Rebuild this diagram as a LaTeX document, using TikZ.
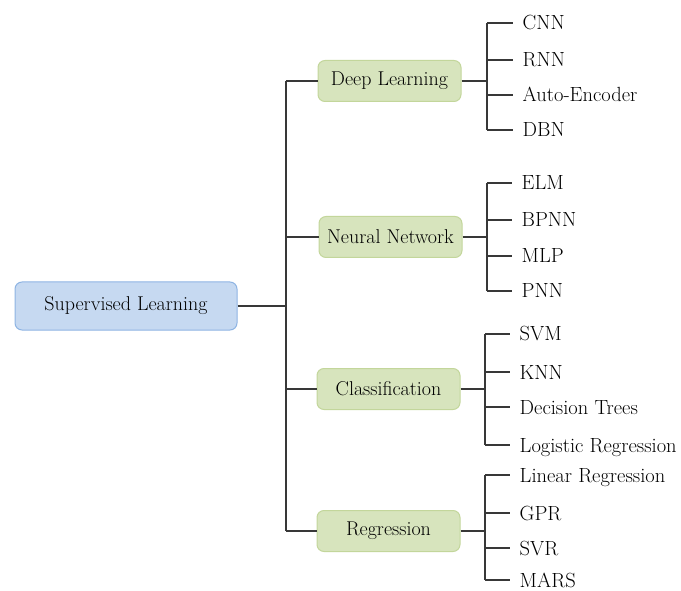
\documentclass[tikz,border=0pt]{standalone}
\colorlet{line edge}{black!78}
\definecolor{root area}{HTML}{C6D9F1}
\definecolor{root edge}{HTML}{8EB4E3}
\definecolor{branch area}{HTML}{D7E4BD}
\definecolor{branch edge}{HTML}{C3D69B}
\tikzset{rootbox/.style={draw=root edge, fill=root area, line width=1pt, rounded corners=7pt,
        minimum width=222pt, minimum height=48pt, font=\fontsize{20}{24}\selectfont},
    branch/.style={draw=branch edge, fill=branch area, line width=1pt, rounded corners=7pt,
        minimum width=143pt, minimum height=41pt, font=\fontsize{20}{24}\selectfont},
    leaf/.style={anchor=west, inner xsep=9.5pt, inner ysep=0pt, text height=14pt, text depth=0pt,
        font=\fontsize{20.5}{24}\selectfont},
    link/.style={draw=line edge, line width=2pt}}

\begin{document}
\begin{tikzpicture}[x=1pt,y=-1pt, text=black]
    \useasboundingbox (0,0) rectangle (681,591);
    \node[rootbox] (root) at (126,306) {Supervised Learning};
    \node[branch] (dl) at (389.5,81)  {Deep Learning};
    \node[branch] (nn) at (390.5,237) {Neural Network};
    \node[branch] (cl) at (388.5,389) {Classification};
    \node[branch] (rg) at (388.5,531) {Regression};
    \coordinate (trunk) at (286,306);
    \coordinate (dlbus) at (487,81);
    \coordinate (nnbus) at (487,237);
    \coordinate (clbus) at (485,389);
    \coordinate (rgbus) at (485,531);

    \node[leaf] (cnn)  at (513,23)  {CNN};
    \node[leaf] (rnn)  at (513,60)  {RNN};
    \node[leaf] (ae)   at (513,95)  {Auto-Encoder};
    \node[leaf] (dbn)  at (513,130) {DBN};

    \node[leaf] (elm)  at (512,183) {ELM};
    \node[leaf] (bpnn) at (512,220) {BPNN};
    \node[leaf] (mlp)  at (512,256) {MLP};
    \node[leaf] (pnn)  at (512,291) {PNN};

    \node[leaf] (svm)  at (510,334) {SVM};
    \node[leaf] (knn)  at (510,372) {KNN};
    \node[leaf] (dt)   at (510,407) {Decision Trees};
    \node[leaf] (lgr)  at (510,445) {Logistic Regression};

    \node[leaf] (lnr)  at (510,475) {Linear Regression};
    \node[leaf] (gpr)  at (510,513) {GPR};
    \node[leaf] (svr)  at (510,548) {SVR};
    \node[leaf] (mars) at (510,580) {MARS};

    % trunk
    \draw[link] (root.east) -- (trunk);
    \draw[link] (trunk |- dl) -- (trunk |- rg);
    \draw[link] (trunk |- dl) -- (dl.west);
    \draw[link] (trunk |- nn) -- (nn.west);
    \draw[link] (trunk |- cl) -- (cl.west);
    \draw[link] (trunk |- rg) -- (rg.west);

    % branches
    \draw[link] (dl.east) -- (dlbus);
    \draw[link] (dlbus |- cnn) -- (dlbus |- dbn);
    \draw[link] (dlbus |- cnn) -- (cnn.west);
    \draw[link] (dlbus |- rnn) -- (rnn.west);
    \draw[link] (dlbus |- ae) -- (ae.west);
    \draw[link] (dlbus |- dbn) -- (dbn.west);

    \draw[link] (nn.east) -- (nnbus);
    \draw[link] (nnbus |- elm) -- (nnbus |- pnn);
    \draw[link] (nnbus |- elm) -- (elm.west);
    \draw[link] (nnbus |- bpnn) -- (bpnn.west);
    \draw[link] (nnbus |- mlp) -- (mlp.west);
    \draw[link] (nnbus |- pnn) -- (pnn.west);

    \draw[link] (cl.east) -- (clbus);
    \draw[link] (clbus |- svm) -- (clbus |- lgr);
    \draw[link] (clbus |- svm) -- (svm.west);
    \draw[link] (clbus |- knn) -- (knn.west);
    \draw[link] (clbus |- dt) -- (dt.west);
    \draw[link] (clbus |- lgr) -- (lgr.west);

    \draw[link] (rg.east) -- (rgbus);
    \draw[link] (rgbus |- lnr) -- (rgbus |- mars);
    \draw[link] (rgbus |- lnr) -- (lnr.west);
    \draw[link] (rgbus |- gpr) -- (gpr.west);
    \draw[link] (rgbus |- svr) -- (svr.west);
    \draw[link] (rgbus |- mars) -- (mars.west);
\end{tikzpicture}
\end{document}
